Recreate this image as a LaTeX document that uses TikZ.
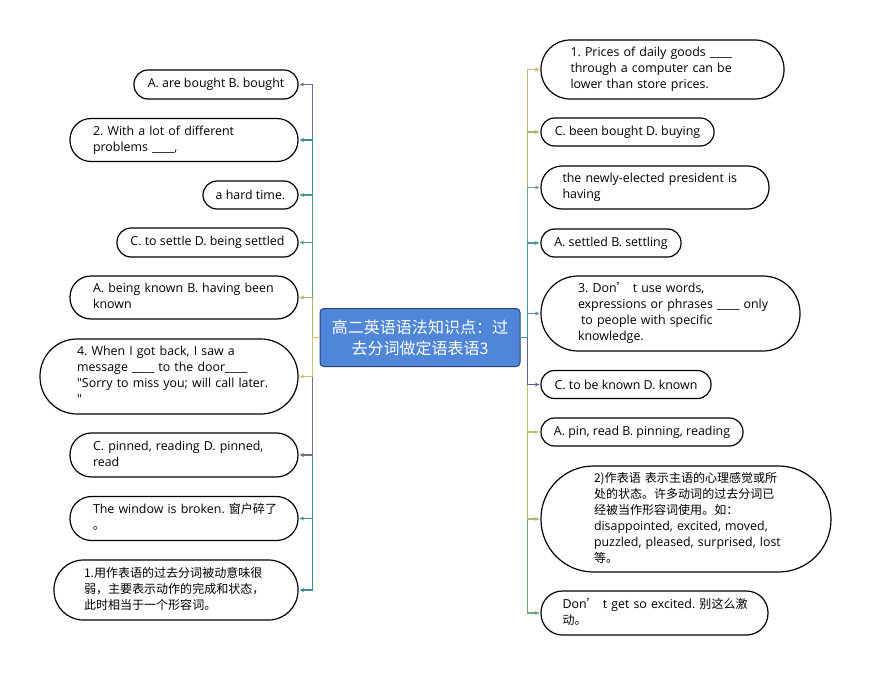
\documentclass[tikz,border=0pt]{standalone}
\usepackage{fontspec}
\setmainfont{Open Sans}
\newfontfamily\cjk[Scale=0.97]{Noto Sans CJK SC}
\usetikzlibrary{arrows.meta}
\frenchspacing
\newcommand\mlines[1]{\begin{tabular}{@{}l@{}}#1\end{tabular}}
\definecolor{rootfill}{RGB}{79,134,215}
\definecolor{rootline}{RGB}{40,66,120}
\definecolor{cPurple}{RGB}{108,110,154}
\definecolor{cTeal}{RGB}{62,142,150}
\definecolor{cTealG}{RGB}{75,154,142}
\definecolor{cGreenT}{RGB}{90,158,138}
\definecolor{cOlive}{RGB}{168,184,106}
\definecolor{cYellow}{RGB}{212,192,106}
\definecolor{cGray}{RGB}{110,112,136}
\definecolor{cTeal2}{RGB}{58,144,152}
\definecolor{cTan}{RGB}{200,180,104}
\definecolor{cOlive2}{RGB}{168,180,106}
\definecolor{cGreen}{RGB}{106,170,132}
\definecolor{cTeal3}{RGB}{74,154,160}
\definecolor{cTeal4}{RGB}{72,150,168}
\definecolor{cPurple2}{RGB}{94,96,144}
\definecolor{cYellow2}{RGB}{196,192,112}
\definecolor{cOlive3}{RGB}{176,180,108}
\definecolor{cGreen2}{RGB}{106,170,120}
\tikzset{
  leaf/.style={draw=black, line width=1.2pt, rounded corners=#1, inner sep=0pt,
    align=left, font=\fontsize{12.4}{16}\selectfont},
  rootbox/.style={draw=rootline, line width=1pt, fill=rootfill, rounded corners=4pt,
    inner sep=0pt, minimum width=200, minimum height=58, align=center, text=white,
    font=\cjk\fontsize{16.5}{21}\selectfont},
  conn/.style={line width=1.2pt, -{Stealth[length=4.5pt,width=4pt]}, shorten >=1pt}
}
\begin{document}
\begin{tikzpicture}[x=1pt,y=-1pt]
\useasboundingbox (0,0) rectangle (871,675);
\fill[white] (0,0) rectangle (871,675);

% root
\node[rootbox] (root) at (420,337.5) {高二英语语法知识点：过\\去分词做定语表语3};

% left nodes
\node[leaf=14, minimum width=164, minimum height=29] (l1) at (216,84.5) {A. are bought B. bought};
\node[leaf=21, minimum width=228, minimum height=43, text width=182] (l2) at (184,140) {\mlines{2. With a lot of different\\problems \_\_\_\_,}};
\node[leaf=14, minimum width=95, minimum height=28] (l3) at (250.5,195) {a hard time.};
\node[leaf=14, minimum width=181, minimum height=29] (l4) at (207.5,242.5) {C. to settle D. being settled};
\node[leaf=21, minimum width=228, minimum height=43, text width=182] (l5) at (184,297.5) {\mlines{A. being known B. having been\\known}};
\node[leaf=37, minimum width=258, minimum height=75, text width=184] (l6) at (169,376.5) {\mlines{4. When I got back, I saw a\\message \_\_\_\_ to the door\_\_\_\_\\\textquotedbl Sorry to miss you; will call later.\\\textquotedbl}};
\node[leaf=21.5, minimum width=228, minimum height=44, text width=182] (l7) at (184,455) {\mlines{C. pinned, reading D. pinned,\\read}};
\node[leaf=21.5, minimum width=228, minimum height=44, text width=182] (l8) at (184,518.5) {\mlines{The window is broken. {\cjk 窗户碎了}\\{\cjk 。}}};
\node[leaf=29.5, minimum width=244, minimum height=60, text width=184] (l9) at (176,590) {\mlines{{\cjk 1.用作表语的过去分词被动意味很}\\{\cjk 弱，主要表示动作的完成和状态，}\\{\cjk 此时相当于一个形容词。}}};

% right nodes
\node[leaf=29, minimum width=243, minimum height=59, text width=184] (r1) at (662.5,69.5) {\mlines{1. Prices of daily goods \_\_\_\_\\through a computer can be\\lower than store prices.}};
\node[leaf=13.5, minimum width=173, minimum height=28] (r2) at (627.5,132) {C. been bought D. buying};
\node[leaf=21, minimum width=228, minimum height=43, text width=185] (r3) at (655,187.5) {\mlines{the newly-elected president is\\having}};
\node[leaf=13.5, minimum width=140, minimum height=28] (r4) at (611,243) {A. settled B. settling};
\node[leaf=37, minimum width=259, minimum height=75, text width=185] (r5) at (670.5,313.5) {\mlines{3. Don{\cjk ’} t use words,\\expressions or phrases \_\_\_\_ only\\\hspace*{3pt}to people with specific\\knowledge.}};
\node[leaf=13.5, minimum width=170, minimum height=28] (r6) at (626,384.5) {C. to be known D. known};
\node[leaf=13.5, minimum width=202, minimum height=28] (r7) at (642,432) {A. pin, read B. pinning, reading};
\node[leaf=52.5, minimum width=290, minimum height=106, text width=184] (r8) at (686,519) {\mlines{{\cjk 2)作表语 表示主语的心理感觉或所}\\{\cjk 处的状态。许多动词的过去分词已}\\{\cjk 经被当作形容词使用。如：}\\disappointed, excited, moved,\\puzzled, pleased, surprised, lost\\{\cjk 等。}}};
\node[leaf=21.5, minimum width=227, minimum height=44, text width=184] (r9) at (654.5,613) {\mlines{Don{\cjk ’} t get so excited. {\cjk 别这么激}\\{\cjk 动。}}};

% left connectors (outer first)
\draw[conn, cPurple] (root.west) -- ++(-7,0) |- (l1.east);
\draw[conn, cTeal] (root.west) -- ++(-7,0) |- (l9.east);
\draw[conn, cTeal] (root.west) -- ++(-7,0) |- (l2.east);
\draw[conn, cTeal2] (root.west) -- ++(-7,0) |- (l8.east);
\draw[conn, cTealG] (root.west) -- ++(-7,0) |- (l3.east);
\draw[conn, cGray] (root.west) -- ++(-7,0) |- (l7.east);
\draw[conn, cGreenT] (root.west) -- ++(-7,0) |- (l4.east);
\draw[conn, cOlive] (root.west) -- ++(-7,0) |- (l5.east);
\draw[conn, cYellow] (root.west) -- ++(-7,0) |- (l6.east);

% right connectors (outer first)
\draw[conn, cGreen2] (root.east) -- ++(7,0) |- (r9.west);
\draw[conn, cTan] (root.east) -- ++(7,0) |- (r1.west);
\draw[conn, cOlive3] (root.east) -- ++(7,0) |- (r8.west);
\draw[conn, cOlive2] (root.east) -- ++(7,0) |- (r2.west);
\draw[conn, cYellow2] (root.east) -- ++(7,0) |- (r7.west);
\draw[conn, cGreen] (root.east) -- ++(7,0) |- (r3.west);
\draw[conn, cTeal3] (root.east) -- ++(7,0) |- (r4.west);
\draw[conn, cPurple2] (root.east) -- ++(7,0) |- (r6.west);
\draw[conn, cTeal4] (root.east) -- ++(7,0) |- (r5.west);
\end{tikzpicture}
\end{document}
